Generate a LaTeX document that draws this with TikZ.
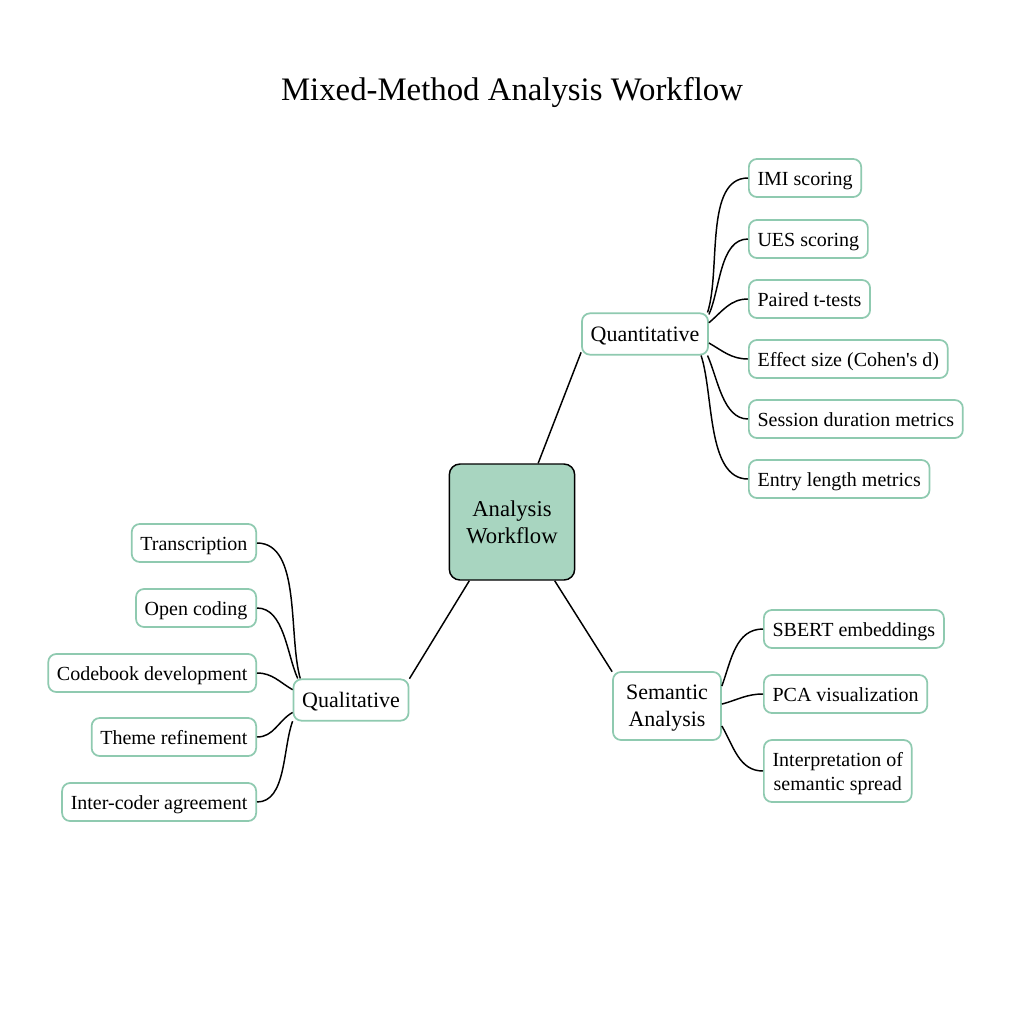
\documentclass[tikz,border=0pt]{standalone}
\usepackage{fontspec}
\setmainfont{Liberation Serif}
\newfontfamily\plainq{Liberation Serif}
\definecolor{mint}{HTML}{A8D5C0}
\definecolor{mintline}{HTML}{8FCAB0}
\begin{document}
\begin{tikzpicture}[x=0.75pt,y=-0.75pt,
  leaf/.style={draw=mintline, line width=1.3pt, rounded corners=6pt, fill=white, inner xsep=6.5pt, inner ysep=2pt, minimum height=28.5pt, font=\fontsize{15}{18}\selectfont, align=center, text height=10.5pt, text depth=0pt},
  mid/.style={draw=mintline, line width=1.3pt, rounded corners=6pt, fill=white, inner xsep=6.5pt, inner ysep=2pt, minimum height=31pt, font=\fontsize{16.5}{20}\selectfont, align=center, text height=11.5pt, text depth=0pt},
  hub/.style={draw=black, line width=1.1pt, fill=mint, rounded corners=8pt, minimum width=94pt, minimum height=87pt, font=\fontsize{17}{20.5}\selectfont, align=center},
  link/.style={line width=1.1pt}]
\useasboundingbox[fill=white] (0,0) rectangle (1024,1024);
\node[font=\fontsize{24.6}{29}\selectfont] (title) at (512,92) {Mixed-Method Analysis Workflow};

\node[hub] (hub) at (512,522) {Analysis\\Workflow};
\node[mid] (quant) at (645,334) {Quantitative};
\node[mid] (qual) at (351,700) {Qualitative};
\node[mid, minimum width=81pt, minimum height=51pt, text height=, text depth=0pt] (sem) at (667,706) {Semantic\\Analysis};

\node[leaf, anchor=west] (imi) at (748,178) {IMI scoring};
\node[leaf, anchor=west] (ues) at (748,239) {UES scoring};
\node[leaf, anchor=west] (ttest) at (748,299) {Paired t-tests};
\node[leaf, anchor=west] (effect) at (748,359) {Effect size (Cohen{\plainq'}s d)};
\node[leaf, anchor=west] (session) at (748,419) {Session duration metrics};
\node[leaf, anchor=west] (entry) at (748,479) {Entry length metrics};

\node[leaf, anchor=east] (trans) at (257,543) {Transcription};
\node[leaf, anchor=east] (open) at (257,608) {Open coding};
\node[leaf, anchor=east] (codebook) at (257,673) {Codebook development};
\node[leaf, anchor=east] (theme) at (257,737) {Theme refinement};
\node[leaf, anchor=east] (inter) at (257,802) {Inter-coder agreement};

\node[leaf, anchor=west] (sbert) at (763,629) {SBERT embeddings};
\node[leaf, anchor=west] (pca) at (763,694) {PCA visualization};
\node[leaf, anchor=west, minimum height=46.5pt, text height=, text depth=0pt] (interp) at (763,771) {Interpretation of\\semantic spread};

\draw[link] (hub.66) -- (quant.196);
\draw[link] (hub.234) -- (qual.20);
\draw[link] (hub.306) -- (sem.148);

\draw[link] (quant.19) to[out=72,in=180,looseness=0.8] (imi.west);
\draw[link] (quant.17) to[out=66,in=180,looseness=0.85] (ues.west);
\draw[link] (quant.10) to[out=40,in=180] (ttest.west);
\draw[link] (quant.-8) to[out=-30,in=180] (effect.west);
\draw[link] (quant.-19) to[out=-66,in=180,looseness=0.85] (session.west);
\draw[link] (quant.-21) to[out=-72,in=180,looseness=0.8] (entry.west);

\draw[link] (qual.157) to[out=106,in=0,looseness=0.8] (trans.east);
\draw[link] (qual.158) to[out=114,in=0,looseness=0.85] (open.east);
\draw[link] (qual.170) to[out=150,in=0] (codebook.east);
\draw[link] (qual.192) to[out=210,in=0] (theme.east);
\draw[link] (qual.200) to[out=250,in=0,looseness=0.85] (inter.east);

\draw[link] (sem.20) to[out=70,in=180] (sbert.west);
\draw[link] (sem.2) to[out=15,in=180] (pca.west);
\draw[link] (sem.-20) to[out=-60,in=180] (interp.west);
\end{tikzpicture}
\end{document}
